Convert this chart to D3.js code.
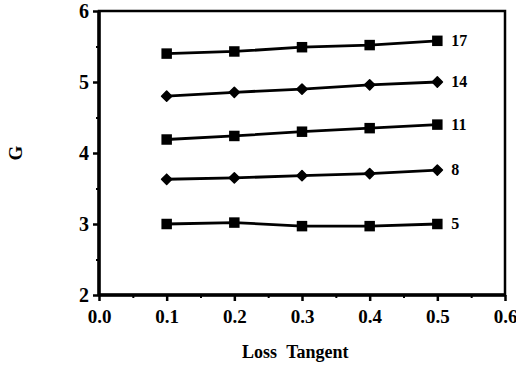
<!DOCTYPE html>
<html>
<head>
<meta charset="utf-8">
<script src="https://cdn.jsdelivr.net/npm/d3@7"></script>
<style>
  body { margin: 0; background: #fff; }
  text { font-family: "Liberation Serif", "DejaVu Serif", serif; font-weight: bold; fill: #000; }
</style>
</head>
<body>
<div id="chart"></div>
<script>
// loss tangent values on the x axis
const lossTangent = [0.1, 0.2, 0.3, 0.4, 0.5];

// G values per curve, label read from the right-hand side
const seriesLabels = ['17', '14', '11', '8', '5'];
const g17 = [5.40, 5.43, 5.49, 5.52, 5.58];
const g14 = [4.80, 4.855, 4.90, 4.96, 5.00];
const g11 = [4.19, 4.24, 4.30, 4.35, 4.40];
const g8 = [3.63, 3.65, 3.68, 3.71, 3.76];
const g5 = [3.00, 3.02, 2.97, 2.97, 3.00];
const seriesMarkers = ['square', 'diamond', 'square', 'diamond', 'square'];

const xTicks = [0.0, 0.1, 0.2, 0.3, 0.4, 0.5, 0.6];
const yTicks = [2, 3, 4, 5, 6];

const width = 516, height = 369;
const margin = { top: 11, right: 11, bottom: 74, left: 99 };
const innerW = width - margin.left - margin.right;
const innerH = height - margin.top - margin.bottom;

const svg = d3.select('#chart').append('svg')
  .attr('width', width)
  .attr('height', height);

const g = svg.append('g')
  .attr('transform', `translate(${margin.left},${margin.top})`);

const x = d3.scaleLinear().domain([0, 0.6]).range([0, innerW]);
const y = d3.scaleLinear().domain([2, 6]).range([innerH, 0]);

// minor ticks
const xMinor = d3.range(0.05, 0.6, 0.1);
const yMinor = d3.range(2.5, 6, 1);

g.append('g')
  .attr('transform', `translate(0,${innerH})`)
  .call(d3.axisBottom(x).tickValues(xMinor).tickSize(3).tickFormat(''))
  .call((s) => s.select('.domain').remove())
  .selectAll('line').attr('stroke-width', 2);

g.append('g')
  .call(d3.axisLeft(y).tickValues(yMinor).tickSize(3).tickFormat(''))
  .call((s) => s.select('.domain').remove())
  .selectAll('line').attr('stroke-width', 2);

// major ticks and labels
const xAxis = g.append('g')
  .attr('transform', `translate(0,${innerH})`)
  .call(d3.axisBottom(x).tickValues(xTicks).tickSize(6).tickPadding(9).tickFormat(d3.format('.1f')));
xAxis.select('.domain').remove();
xAxis.selectAll('line').attr('stroke-width', 2.5);
xAxis.selectAll('text').style('font-size', '19px');

const yAxis = g.append('g')
  .call(d3.axisLeft(y).tickValues(yTicks).tickSize(6).tickPadding(4).tickFormat(d3.format('d')));
yAxis.select('.domain').remove();
yAxis.selectAll('line').attr('stroke-width', 2.5);
yAxis.selectAll('text').style('font-size', '20px');

// frame
g.append('rect')
  .attr('x', 0).attr('y', 0)
  .attr('width', innerW).attr('height', innerH)
  .attr('fill', 'none')
  .attr('stroke', '#000')
  .attr('stroke-width', 2.5);
g.append('line')
  .attr('x1', 0).attr('x2', 0).attr('y1', 0).attr('y2', innerH)
  .attr('stroke', '#000').attr('stroke-width', 3.5);
g.append('line')
  .attr('x1', 0).attr('x2', innerW).attr('y1', innerH).attr('y2', innerH)
  .attr('stroke', '#000').attr('stroke-width', 3.5);

// series
const allSeries = [g17, g14, g11, g8, g5];
const line = d3.line().x((d, i) => x(lossTangent[i])).y((d) => y(d));
const square = d3.symbol().type(d3.symbolSquare).size(110);
const diamond = d3.symbol().type(d3.symbolSquare).size(52);

allSeries.forEach((vals, si) => {
  g.append('path')
    .datum(vals)
    .attr('d', line)
    .attr('fill', 'none')
    .attr('stroke', '#000')
    .attr('stroke-width', 2.8);

  const isSquare = seriesMarkers[si] === 'square';
  g.selectAll(null)
    .data(vals)
    .join('path')
    .attr('transform', (d, i) => `translate(${x(lossTangent[i])},${y(d)})` + (isSquare ? '' : ' rotate(45)'))
    .attr('d', isSquare ? square : diamond)
    .attr('fill', '#000')
    .attr('stroke', '#000')
    .attr('stroke-width', isSquare ? 0 : 1.5)
    .attr('stroke-linejoin', 'round');

  g.append('text')
    .attr('x', x(lossTangent[lossTangent.length - 1]) + 14)
    .attr('y', y(vals[vals.length - 1]) + 5)
    .style('font-size', '16px')
    .text(seriesLabels[si]);
});

// axis titles
svg.append('text')
  .attr('x', margin.left + x(0.29))
  .attr('y', 358)
  .attr('text-anchor', 'middle')
  .style('font-size', '18px')
  .style('word-spacing', '5px')
  .text('Loss Tangent');

svg.append('text')
  .attr('transform', `translate(22,${margin.top + y(4)}) rotate(-90)`)
  .attr('text-anchor', 'middle')
  .style('font-size', '19px')
  .text('G');
</script>
</body>
</html>
